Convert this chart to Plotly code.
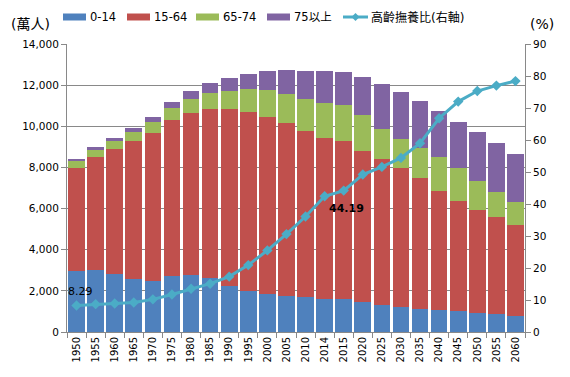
import plotly.graph_objects as go

categories = ["1950", "1955", "1960", "1965", "1970", "1975", "1980", "1985", "1990",
              "1995", "2000", "2005", "2010", "2014", "2015", "2020", "2025", "2030",
              "2035", "2040", "2045", "2050", "2055", "2060"]
age_0_14 = [2979, 3012, 2843, 2553, 2482, 2722, 2751, 2603, 2249, 2001, 1847, 1752,
            1684, 1623, 1583, 1457, 1324, 1204, 1129, 1073, 1012, 939, 861, 791]
age_15_64 = [5017, 5517, 6047, 6744, 7212, 7581, 7883, 8251, 8590, 8716, 8622, 8409,
             8103, 7785, 7682, 7341, 7085, 6773, 6343, 5787, 5353, 5001, 4706, 4418]
age_65_74 = [309, 340, 376, 435, 516, 603, 699, 776, 892, 1109, 1301, 1412,
             1517, 1708, 1749, 1733, 1479, 1407, 1496, 1645, 1599, 1383, 1225, 1128]
age_75_plus = [107, 139, 163, 189, 224, 284, 366, 471, 597, 717, 901, 1164,
               1407, 1592, 1646, 1879, 2179, 2278, 2245, 2223, 2257, 2385, 2401, 2336]
dependency_ratio = [8.29, 8.7, 8.9, 9.2, 10.2, 11.7, 13.5, 15.1, 17.3, 20.9, 25.5, 30.6,
                    36.1, 42.4, 44.19, 49.2, 51.6, 54.4, 59.0, 66.8, 72.0, 75.3, 77.0, 78.4]

series_names = ["0-14", "15-64", "65-74", "75以上"]
line_name = "高齡撫養比(右軸)"
colors = ["#4F81BD", "#C0504D", "#9BBB59", "#8064A2"]
line_color = "#4BACC6"
grid = "#898989"
FONT = "DejaVu Sans, Noto Sans CJK TC"

# page body has an 8px default margin; compensate so the chart lands where the reference has it
OFF = 8
W, H = 570 - OFF, 377 - OFF
L, R, T, B = 67 - OFF, 45, 44 - OFF, 45
PW, PH = W - L - R, H - T - B


def px(x):
    return (x - OFF - L) / PW


def py(y):
    return (H - B - (y - OFF)) / PH


fig = go.Figure()
for name, vals, c in zip(series_names, [age_0_14, age_15_64, age_65_74, age_75_plus], colors):
    fig.add_trace(go.Bar(x=categories, y=vals, name=name, marker=dict(color=c, line=dict(width=0)),
                         showlegend=False))

fig.add_trace(go.Scatter(x=categories, y=dependency_ratio, name=line_name, yaxis="y2",
                         mode="lines+markers", line=dict(color=line_color, width=3),
                         marker=dict(symbol="diamond", size=8, color=line_color),
                         showlegend=False))

i_first, i_lab = 0, categories.index("2015")
annotations = [
    dict(x=i_first, y=dependency_ratio[i_first], xref="x", yref="y2", text=f"{dependency_ratio[i_first]:.2f}",
         showarrow=False, xshift=4, yshift=14, font=dict(family=FONT, size=11, color="#000")),
    dict(x=i_lab, y=dependency_ratio[i_lab], xref="x", yref="y2", text=f"<b>{dependency_ratio[i_lab]:.2f}</b>",
         showarrow=False, xshift=3, yshift=-18, font=dict(family=FONT, size=11, color="#000")),
    dict(x=px(30), y=py(24), xref="paper", yref="paper", text="(萬人)", showarrow=False,
         xanchor="center", yanchor="middle", font=dict(family=FONT, size=14, color="#000")),
    dict(x=px(542), y=py(24), xref="paper", yref="paper", text="(%)", showarrow=False,
         xanchor="center", yanchor="middle", font=dict(family=FONT, size=14, color="#000")),
]

shapes = []
legend_items = [(63, series_names[0], colors[0]), (127, series_names[1], colors[1]),
                (196, series_names[2], colors[2]), (267, series_names[3], colors[3])]
ly = 17
for x0, name, c in legend_items:
    shapes.append(dict(type="rect", xref="paper", yref="paper", x0=px(x0), x1=px(x0 + 23),
                       y0=py(ly + 3.5), y1=py(ly - 3.5), fillcolor=c, line=dict(width=0)))
    annotations.append(dict(x=px(x0 + 25), y=py(ly), xref="paper", yref="paper", text=name,
                            showarrow=False, xanchor="left", yanchor="middle",
                            font=dict(family=FONT, size=11.5, color="#000")))
# line legend
shapes.append(dict(type="line", xref="paper", yref="paper", x0=px(343), x1=px(368),
                   y0=py(ly), y1=py(ly), line=dict(color=line_color, width=3)))
shapes.append(dict(type="path", xref="paper", yref="paper",
                   path=f"M {px(355.5)},{py(ly-4)} L {px(359.5)},{py(ly)} L {px(355.5)},{py(ly+4)} L {px(351.5)},{py(ly)} Z",
                   fillcolor=line_color, line=dict(width=0)))
annotations.append(dict(x=px(369), y=py(ly), xref="paper", yref="paper", text=line_name,
                        showarrow=False, xanchor="left", yanchor="middle",
                        font=dict(family=FONT, size=12, color="#000")))

fig.update_layout(
    width=W, height=H,
    margin=dict(l=L, r=R, t=T, b=B, pad=0, autoexpand=False),
    barmode="stack", bargap=0.13,
    paper_bgcolor="white", plot_bgcolor="white",
    font=dict(family=FONT, size=10, color="#000"),
    xaxis=dict(type="category", range=[-0.5, len(categories) - 0.5], tickangle=-90, showline=True,
               linecolor=grid, linewidth=1,
               ticks="outside", tickson="boundaries", ticklen=5, tickcolor=grid,
               tickfont=dict(size=10), showgrid=False),
    yaxis=dict(range=[0, 14000], dtick=2000, tickformat=",", showline=True, linecolor=grid,
               linewidth=1, ticks="outside", ticklen=5, tickcolor=grid, showgrid=True,
               gridcolor=grid, gridwidth=1, zeroline=False, tickfont=dict(size=10.5)),
    yaxis2=dict(range=[0, 90], dtick=10, overlaying="y", side="right", showline=True,
                linecolor=grid, linewidth=1, ticks="outside", ticklen=5, tickcolor=grid,
                showgrid=False, zeroline=False, tickfont=dict(size=10.5)),
    annotations=annotations,
    shapes=shapes,
)

fig.write_html("out.html")
